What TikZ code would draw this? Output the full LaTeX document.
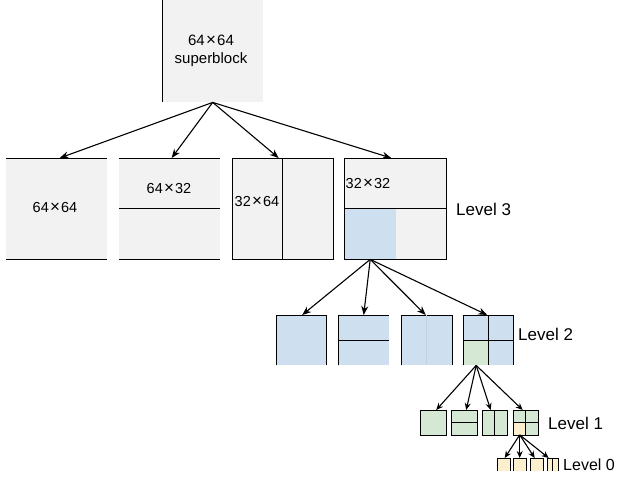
\documentclass[tikz,border=0pt]{standalone}
\usepackage{fontspec}
\setmainfont{Liberation Sans}
\usetikzlibrary{arrows.meta}
\definecolor{gfill}{HTML}{F2F2F2}
\definecolor{bfill}{HTML}{CEDFF0}
\definecolor{grfill}{HTML}{D5E8D4}
\definecolor{yfill}{HTML}{FCEFCE}
\newcommand{\tms}{\kern1.2pt{\fontsize{17}{17}\selectfont×}\kern1.2pt}
\tikzset{
  blk/.style={draw=none, inner sep=0pt, anchor=north west, minimum width=#1, minimum height=#1},
  gblk/.style={blk=#1, fill=gfill},
  bblk/.style={blk=#1, fill=bfill},
  grblk/.style={blk=#1, fill=grfill},
  yblk/.style={blk=#1, fill=yfill},
  edge/.style={line width=1pt, black},
  arr/.style={line width=1.1pt, -{Stealth[length=9pt,width=7pt]}},
  arrs/.style={line width=1.1pt, -{Stealth[length=7pt,width=6pt]}},
  lbl/.style={anchor=west, inner sep=0pt, font=\fontsize{17}{19}\selectfont},
  txt/.style={inner sep=0pt, font=\fontsize{14.5}{17}\selectfont}
}
\begin{document}
\begin{tikzpicture}[x=1pt,y=-1pt]
\useasboundingbox (0,0) rectangle (626,482);
% superblock
\node[gblk=101, minimum height=102] (sb) at (162,0) {};
\node[txt, align=center, font=\fontsize{15}{18}\selectfont] (sbt) at (211,51) {64\tms64\\superblock};
\draw[edge] (sb.north west) -- (sb.south west);
% level 3
\node[gblk=101] (a1) at (6,158) {};
\node[gblk=101] (a2) at (119,158) {};
\node[gblk=101] (a3) at (232,158) {};
\node[gblk=102, minimum height=101] (a4) at (344,158) {};
\node[bblk=51, minimum height=50] (a4c) at (344.5,209) {};
\draw[edge] (a1.north west) -- (a1.north east) (a1.south west) -- (a1.south east);
\draw[edge] (a2.north west) -- (a2.north east) (a2.south west) -- (a2.south east) (a2.west) -- (a2.east);
\draw[edge] (a3.north west) rectangle (a3.south east) (a3.north) -- (a3.south);
\draw[edge] (a4.north west) rectangle (a4.south east) (a4.west) -- (a4.east);
\node[txt] (t1) at (55,208) {64\tms64};
\node[txt] (t2) at (169,189) {64\tms32};
\node[txt] (t3) at (257,202) {32\tms64};
\node[txt] (t4) at (368,184) {32\tms32};
\node[lbl] (L3) at (456,209) {Level 3};
\draw[arr] (sb.south) -- ([xshift=3pt]a1.north);
\draw[arr] (sb.south) -- ([xshift=2pt]a2.north);
\draw[arr] (sb.south) -- ([xshift=-4pt]a3.north);
\draw[arr] (sb.south) -- ([xshift=-4pt]a4.north);
% level 2
\node[bblk=50] (b1) at (276,315) {};
\node[bblk=51, minimum height=50] (b2) at (338,315) {};
\node[bblk=51, minimum height=50] (b3) at (401,315) {};
\node[bblk=50] (b4) at (463,315) {};
\node[grblk=25, minimum width=25] (b4c) at (463.5,340) {};
\draw[edge] (b1.south west) |- (b1.north east) -- (b1.south east);
\draw[edge] (b2.south west) |- (b2.north east) (b2.west) -- (b2.east);
\draw[edge] (b3.south west) |- (b3.north east) -- (b3.south east);
\draw[line width=0.6pt, bfill!85!gray] (b3.north) -- (b3.south);
\draw[edge] (b4.south west) |- (b4.north east) -- (b4.south east) (b4.west) -- (b4.east) (b4.north) -- (b4.south);
\node[lbl] (L2) at (518,334) {Level 2};
\draw[arr] (a4c.south) -- ([xshift=1pt]b1.north);
\draw[arr] (a4c.south) -- (b2.north);
\draw[arr] (a4c.south) -- ([xshift=-1pt]b3.north);
\draw[arr] (a4c.south) -- ([xshift=-1pt]b4.north);
% level 1
\node[grblk=25, minimum width=26] (c1) at (420,410) {};
\node[grblk=25, minimum width=26] (c2) at (451,410) {};
\node[grblk=25, minimum width=25] (c3) at (482,410) {};
\node[grblk=25, minimum width=25] (c4) at (513,410) {};
\node[yblk=12.5, minimum width=13] (c4c) at (513,422) {};
\draw[edge] (c1.north west) rectangle (c1.south east);
\draw[edge] (c2.north west) rectangle (c2.south east) (c2.west) -- (c2.east);
\draw[edge] (c3.north west) rectangle (c3.south east) (c3.north) -- (c3.south);
\draw[edge] (c4.north west) rectangle (c4.south east) (c4.west) -- (c4.east) (c4.north) -- (c4.south);
\node[lbl] (L1) at (548,423) {Level 1};
\draw[arrs] (b4c.south) -- ([xshift=3pt]c1.north);
\draw[arrs] (b4c.south) -- ([xshift=2pt]c2.north);
\draw[arrs] (b4c.south) -- ([xshift=-4pt]c3.north);
\draw[arrs] (b4c.south) -- ([xshift=-3pt]c4.north);
% level 0
\node[yblk=13, minimum height=13] (d1) at (497,458) {};
\node[yblk=13, minimum height=13] (d2) at (513,458) {};
\node[yblk=13, minimum height=13] (d3) at (530,458) {};
\node[yblk=11, minimum height=13] (d4) at (547,458) {};
\draw[edge] (d1.south west) |- (d1.north east) -- (d1.south east);
\draw[edge] (d2.south west) |- (d2.north east) -- (d2.south east);
\draw[edge] (d3.south west) |- (d3.north east) -- (d3.south east);
\draw[edge] (d4.south west) |- (d4.north east) -- (d4.south east) (d4.north) -- (d4.south);
\node[lbl, font=\fontsize{16}{18}\selectfont] (L0) at (563,465) {Level 0};
\draw[arrs] (c4c.south) -- ([xshift=1pt]d1.north);
\draw[arrs] (c4c.south) -- (d2.north);
\draw[arrs] (c4c.south) -- ([xshift=-2pt]d3.north);
\draw[arrs] (c4c.south) -- ([xshift=-4pt]d4.north);
\end{tikzpicture}
\end{document}
